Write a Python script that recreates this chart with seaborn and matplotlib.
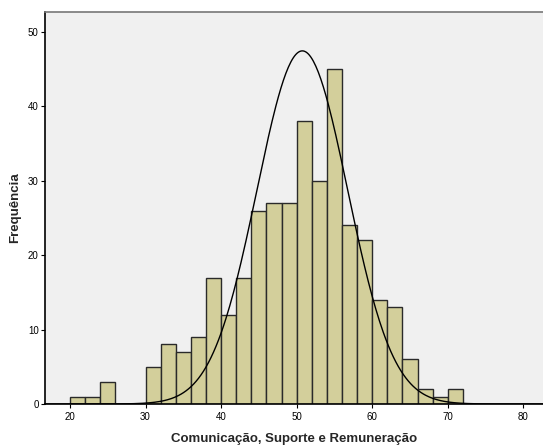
import numpy as np
import pandas as pd
import matplotlib
matplotlib.use("Agg")
import matplotlib.pyplot as plt
import seaborn as sns

# Data
bin_left = [20, 22, 24, 26, 28, 30, 32, 34, 36, 38, 40, 42, 44, 46, 48, 50,
            52, 54, 56, 58, 60, 62, 64, 66, 68, 70]
counts = [1, 1, 3, 0, 0, 5, 8, 7, 9, 17, 12, 17, 26, 27, 27, 38,
          30, 45, 24, 22, 14, 13, 6, 2, 1, 2]
bin_width = 2
normal_mean = 50.75
normal_sd = 6.0
x_ticks = [20, 30, 40, 50, 60, 70, 80]
y_ticks = [0, 10, 20, 30, 40, 50]
x_label = "Comunicação, Suporte e Remuneração"
y_label = "Frequência"

sns.set_style("white")
plt.rcParams['font.family'] = ['Liberation Sans', 'DejaVu Sans']

fig = plt.figure(figsize=(5.43, 4.46), dpi=100)
ax = fig.add_axes([45/543, 1-404/446, 1-45/543, (404-12)/446])
ax.set_facecolor("#F0F0F0")

df = pd.DataFrame({"x": np.array(bin_left, dtype=float) + bin_width/2,
                   "w": np.array(counts, dtype=float)})
sns.histplot(data=df, x="x", weights="w", binwidth=bin_width,
             binrange=(bin_left[0], bin_left[-1] + bin_width), ax=ax,
             color="#D3CF9B", edgecolor="#2a2a2a", linewidth=1.0, alpha=1)

n = sum(counts)
xs = np.linspace(16.7, 82.6, 400)
ys = n * bin_width / (normal_sd * np.sqrt(2*np.pi)) * np.exp(-0.5*((xs-normal_mean)/normal_sd)**2)
sns.lineplot(x=xs, y=ys, ax=ax, color="black", linewidth=1.0)

ax.set_xlim(16.7, 82.6)
ax.set_ylim(0, 52.7)
ax.set_xticks(x_ticks)
ax.set_yticks(y_ticks)
ax.tick_params(axis="y", left=True, labelsize=7, length=3, width=0.8,
               direction="out", colors="black", pad=1.5)
ax.tick_params(axis="x", bottom=True, labelsize=7, length=3, width=0.8,
               direction="out", pad=2.5, colors="black")
ax.set_xlabel(x_label, fontsize=9.5, fontweight="bold", labelpad=8)
ax.set_ylabel(y_label, fontsize=9.5, fontweight="bold", labelpad=5)

for side in ["left", "bottom"]:
    ax.spines[side].set_color("black")
    ax.spines[side].set_linewidth(1.2)
ax.spines["top"].set_color("#777777")
ax.spines["top"].set_linewidth(1.2)
ax.spines["right"].set_visible(False)

fig.savefig("out.png", dpi=100, facecolor="white")
